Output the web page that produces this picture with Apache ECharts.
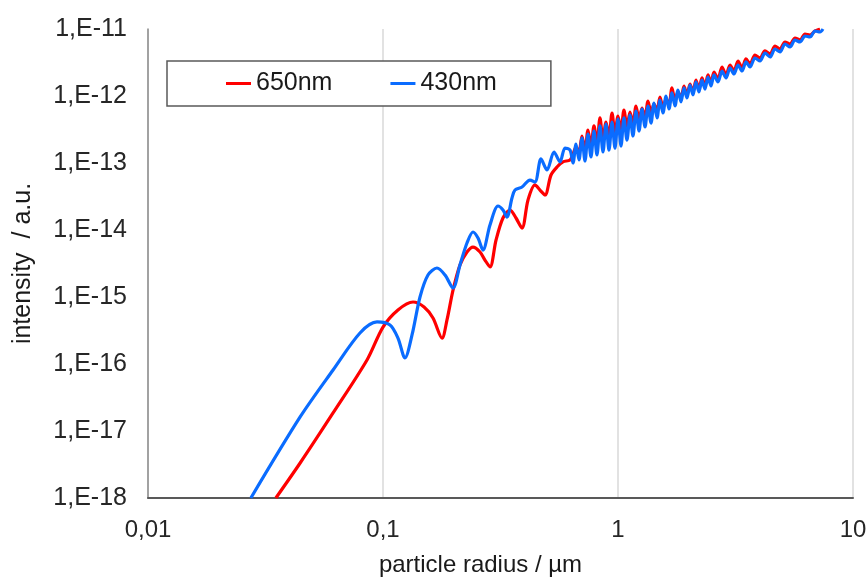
<!DOCTYPE html>
<html>
<head>
<meta charset="utf-8">
<script src="https://cdn.jsdelivr.net/npm/echarts@6/dist/echarts.min.js"></script>
<style>
html,body{margin:0;padding:0;background:#fff;}
#chart{width:867px;height:579px;}
</style>
</head>
<body>
<div id="chart"></div>
<script>
// ---- tick labels ----
var xTickLabels = ['0,01', '0,1', '1', '10'];
var yTickLabels = ['1,E-18', '1,E-17', '1,E-16', '1,E-15', '1,E-14', '1,E-13', '1,E-12', '1,E-11'];
var seriesNames = ['650nm', '430nm'];

// ---- 650 nm (red), smooth part: radius (µm) and intensity (a.u.) ----
var redRadiusLow = [0.0350, 0.0444, 0.0613, 0.0855, 0.100, 0.1158, 0.1342, 0.1495, 0.1632, 0.1783, 0.1872,
  0.1986, 0.2126, 0.2277, 0.2415, 0.2587, 0.2716, 0.2853, 0.3027, 0.3240, 0.3470, 0.3681, 0.3905,
  0.4141, 0.4433, 0.4656, 0.4891, 0.5187, 0.5500, 0.5834];
var redIntensityLow = [1.0e-18, 3.33e-18, 1.86e-17, 1.15e-16, 3.56e-16, 6.40e-16, 8.42e-16, 7.09e-16, 4.86e-16, 2.44e-16, 4.54e-16,
  1.27e-15, 3.01e-15, 4.70e-15, 5.57e-15, 4.70e-15, 3.56e-15, 2.81e-15, 7.09e-15, 1.51e-14, 1.99e-14, 1.51e-14, 1.07e-14,
  2.81e-14, 4.70e-14, 3.95e-14, 3.33e-14, 6.62e-14, 8.71e-14, 1.04e-13];

// ---- 430 nm (blue), smooth part ----
var blueRadiusLow = [0.0274, 0.0444, 0.0613, 0.0798, 0.0943, 0.1071, 0.1158, 0.1240, 0.1329, 0.1437, 0.1554,
  0.1697, 0.1836, 0.1986, 0.2126, 0.2277, 0.2415, 0.2537, 0.2664, 0.2853, 0.3086, 0.3240, 0.3370,
  0.3539, 0.3645, 0.3905, 0.4222, 0.4433, 0.4703, 0.4988, 0.5342, 0.5665, 0.5950];
var blueIntensityLow = [1.0e-18, 1.62e-17, 8.14e-17, 2.90e-16, 4.24e-16, 3.82e-16, 2.44e-16, 1.23e-16, 2.71e-16, 1.0e-15, 2.13e-15,
  2.71e-15, 2.13e-15, 1.36e-15, 3.01e-15, 6.40e-15, 9.33e-15, 7.60e-15, 5.02e-15, 1.19e-14, 2.28e-14, 1.99e-14, 1.56e-14,
  3.01e-14, 3.95e-14, 4.38e-14, 5.57e-14, 5.20e-14, 1.15e-13, 7.87e-14, 1.46e-13, 1.04e-13, 1.67e-13];

// ---- oscillating part (large particles): shared radius grid ----
var radiusHigh = [0.6248, 0.6435, 0.6627, 0.6823, 0.7027, 0.7237, 0.7452, 0.7675, 0.7904, 0.8138,
  0.8381, 0.8633, 0.8891, 0.9156, 0.9430, 0.9710, 1.000, 1.030, 1.060, 1.092,
  1.125, 1.158, 1.193, 1.229, 1.265, 1.303, 1.342, 1.382, 1.423, 1.466,
  1.509, 1.554, 1.601, 1.648, 1.697, 1.748, 1.800, 1.854, 1.909, 1.966,
  2.025, 2.085, 2.147, 2.211, 2.277, 2.345, 2.415, 2.487, 2.562, 2.664,
  2.771, 2.882, 2.998, 3.116, 3.241, 3.372, 3.505, 3.645, 3.828, 4.021,
  4.222, 4.436, 4.658, 4.892, 5.137, 5.395, 5.665, 5.950, 6.248, 6.561,
  6.893, 7.237, 7.452];
var blueIntensityHigh = [1.56e-13, 1.00e-13, 1.92e-13, 1.11e-13, 2.36e-13, 1.07e-13, 2.71e-13, 1.23e-13, 3.00e-13, 1.32e-13,
  3.57e-13, 1.46e-13, 3.82e-13, 1.56e-13, 4.09e-13, 1.67e-13, 4.54e-13, 1.79e-13, 4.70e-13, 2.20e-13,
  5.20e-13, 2.53e-13, 5.97e-13, 3.00e-13, 6.40e-13, 3.45e-13, 7.09e-13, 3.95e-13, 7.86e-13, 4.70e-13,
  8.72e-13, 5.58e-13, 1.00e-12, 6.40e-13, 1.11e-12, 7.09e-13, 1.23e-12, 8.14e-13, 1.32e-12, 9.34e-13,
  1.46e-12, 1.04e-12, 1.62e-12, 1.15e-12, 1.73e-12, 1.27e-12, 1.92e-12, 1.41e-12, 2.06e-12, 1.62e-12,
  2.36e-12, 1.86e-12, 2.62e-12, 2.13e-12, 2.90e-12, 2.36e-12, 3.22e-12, 2.71e-12, 3.69e-12, 3.33e-12,
  4.38e-12, 3.82e-12, 5.03e-12, 4.54e-12, 5.97e-12, 5.39e-12, 6.85e-12, 6.40e-12, 7.86e-12, 7.60e-12,
  9.34e-12, 9.02e-12, 1.00e-11];
var redIntensityHigh = [1.11e-13, 1.36e-13, 1.73e-13, 1.46e-13, 2.53e-13, 1.56e-13, 3.11e-13, 1.79e-13, 3.57e-13, 1.99e-13,
  4.70e-13, 2.20e-13, 4.09e-13, 2.44e-13, 5.58e-13, 2.71e-13, 5.03e-13, 3.11e-13, 6.18e-13, 3.45e-13,
  5.77e-13, 3.82e-13, 7.09e-13, 4.38e-13, 6.62e-13, 4.86e-13, 8.42e-13, 5.58e-13, 7.60e-13, 6.18e-13,
  9.66e-13, 6.62e-13, 9.02e-13, 7.60e-13, 1.32e-12, 8.42e-13, 1.15e-12, 9.34e-13, 1.41e-12, 1.04e-12,
  1.51e-12, 1.15e-12, 1.73e-12, 1.27e-12, 1.86e-12, 1.41e-12, 2.06e-12, 1.56e-12, 2.28e-12, 1.79e-12,
  2.71e-12, 2.06e-12, 2.90e-12, 2.36e-12, 3.33e-12, 2.62e-12, 3.57e-12, 3.00e-12, 4.09e-12, 3.69e-12,
  4.70e-12, 4.24e-12, 5.58e-12, 5.03e-12, 6.40e-12, 5.97e-12, 7.34e-12, 6.85e-12, 8.42e-12, 8.14e-12,
  9.34e-12, 1.00e-11];

function zip(rs, vs) {
  var out = [];
  for (var i = 0; i < vs.length; i++) out.push([rs[i], vs[i]]);
  return out;
}
var redData = zip(redRadiusLow, redIntensityLow).concat(zip(radiusHigh, redIntensityHigh));
var blueData = zip(blueRadiusLow, blueIntensityLow).concat(zip(radiusHigh, blueIntensityHigh));

var FONT = '"Liberation Sans", Arial, sans-serif';
var chart = echarts.init(document.getElementById('chart'), null, {renderer: 'canvas'});
chart.setOption({
  animation: false,
  backgroundColor: '#ffffff',
  grid: {left: 148, right: 14, top: 29, bottom: 81, containLabel: false, outerBoundsMode: 'none'},
  legend: {
    left: 167, top: 61,
    data: [
      {name: seriesNames[0], icon: 'rect'},
      {name: seriesNames[1], icon: 'rect'}
    ],
    itemWidth: 25, itemHeight: 3, itemGap: 58,
    padding: [10, 54, 10, 59],
    borderColor: '#595959', borderWidth: 1.5, backgroundColor: '#ffffff',
    textStyle: {fontFamily: FONT, fontSize: 25, color: '#1a1a1a'}
  },
  xAxis: {
    type: 'log', logBase: 10, min: 0.01, max: 10, splitNumber: 3,
    name: 'particle radius / µm', nameLocation: 'middle', nameGap: 55,
    nameTextStyle: {fontFamily: FONT, fontSize: 24, color: '#1a1a1a', padding: [0, 40, 0, 0]},
    axisLine: {show: true, lineStyle: {color: '#595959', width: 2}},
    axisTick: {show: false},
    splitLine: {show: true, lineStyle: {color: '#d9d9d9', width: 1.5}},
    axisLabel: {
      margin: 20, fontFamily: FONT, fontSize: 24, color: '#262626',
      formatter: function (v) { return xTickLabels[Math.round(Math.log10(v)) + 2]; }
    }
  },
  yAxis: {
    type: 'log', logBase: 10, min: 1e-18, max: 1e-11, splitNumber: 7,
    name: 'intensity  / a.u.', nameLocation: 'middle', nameGap: 112, nameRotate: 90,
    nameTextStyle: {fontFamily: FONT, fontSize: 25, color: '#1a1a1a'},
    axisLine: {show: true, lineStyle: {color: '#8c8c8c', width: 1.5}},
    axisTick: {show: false},
    splitLine: {show: false},
    axisLabel: {
      margin: 21, fontFamily: FONT, fontSize: 25, color: '#262626',
      formatter: function (v) { return yTickLabels[Math.round(Math.log10(v)) + 18]; }
    }
  },
  series: [
    {
      name: seriesNames[0], type: 'line', data: redData, showSymbol: false, smooth: 0.3,
      lineStyle: {color: '#ff0000', width: 3.2}, itemStyle: {color: '#ff0000'}
    },
    {
      name: seriesNames[1], type: 'line', data: blueData, showSymbol: false, smooth: 0.3,
      lineStyle: {color: '#0a6cff', width: 3.2}, itemStyle: {color: '#0a6cff'}
    }
  ]
});
</script>
</body>
</html>
